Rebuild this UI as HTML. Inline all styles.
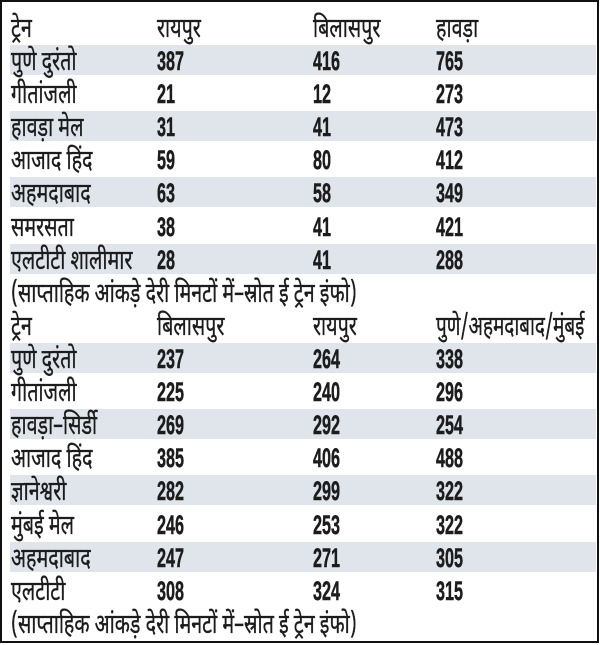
<!DOCTYPE html>
<html>
<head>
<meta charset="utf-8">
<style>
html,body{margin:0;padding:0;background:#fff;}
body{width:600px;height:644px;position:relative;overflow:hidden;}
.frame{position:absolute;left:0;top:0;width:599px;height:643px;box-sizing:border-box;border:2.5px solid #111;}
.band{position:absolute;left:10px;width:586px;height:30px;background:#dfe5eb;}
.t{position:absolute;height:30px;line-height:30px;white-space:nowrap;color:#1c1c1c;margin-top:5px;
   font-family:"Noto Sans Devanagari","Lohit Devanagari","FreeSans","Liberation Sans",sans-serif;
   font-size:27px;transform-origin:0 50%;transform:scaleX(0.73);-webkit-text-stroke:0.35px #1c1c1c;}
.n{position:absolute;height:30px;line-height:30px;white-space:nowrap;color:#1c1c1c;margin-top:1px;
   font-family:"Liberation Sans",sans-serif;font-weight:bold;font-size:27px;
   transform-origin:0 50%;transform:scaleX(0.6);-webkit-text-stroke:0.5px #1c1c1c;}
.c1{left:11px}.c2{left:157px}.c3{left:313px}.c4{left:436px}
</style>
</head>
<body>
<div class="frame"></div>

<div class="band" style="top:45px"></div>
<div class="band" style="top:111px"></div>
<div class="band" style="top:177px"></div>
<div class="band" style="top:244px"></div>
<div class="band" style="top:343px"></div>
<div class="band" style="top:409px"></div>
<div class="band" style="top:475px"></div>
<div class="band" style="top:542px"></div>

<!-- Table 1 -->
<div class="t c1" style="top:12px">ट्रेन</div>
<div class="t c2" style="top:12px">रायपुर</div>
<div class="t c3" style="top:12px">बिलासपुर</div>
<div class="t c4" style="top:12px">हावड़ा</div>

<div class="t c1" style="top:45px">पुणे दुरंतो</div>
<div class="n c2" style="top:45px">387</div>
<div class="n c3" style="top:45px">416</div>
<div class="n c4" style="top:45px">765</div>

<div class="t c1" style="top:78px">गीतांजली</div>
<div class="n c2" style="top:78px">21</div>
<div class="n c3" style="top:78px">12</div>
<div class="n c4" style="top:78px">273</div>

<div class="t c1" style="top:111px">हावड़ा मेल</div>
<div class="n c2" style="top:111px">31</div>
<div class="n c3" style="top:111px">41</div>
<div class="n c4" style="top:111px">473</div>

<div class="t c1" style="top:144px">आजाद हिंद</div>
<div class="n c2" style="top:144px">59</div>
<div class="n c3" style="top:144px">80</div>
<div class="n c4" style="top:144px">412</div>

<div class="t c1" style="top:177px">अहमदाबाद</div>
<div class="n c2" style="top:177px">63</div>
<div class="n c3" style="top:177px">58</div>
<div class="n c4" style="top:177px">349</div>

<div class="t c1" style="top:211px">समरसता</div>
<div class="n c2" style="top:211px">38</div>
<div class="n c3" style="top:211px">41</div>
<div class="n c4" style="top:211px">421</div>

<div class="t c1" style="top:244px">एलटीटी शालीमार</div>
<div class="n c2" style="top:244px">28</div>
<div class="n c3" style="top:244px">41</div>
<div class="n c4" style="top:244px">288</div>

<div class="t c1" style="top:277px">(साप्ताहिक आंकड़े देरी मिनटों में–स्रोत ई ट्रेन इंफो)</div>

<!-- Table 2 -->
<div class="t c1" style="top:310px">ट्रेन</div>
<div class="t c2" style="top:310px">बिलासपुर</div>
<div class="t c3" style="top:310px">रायपुर</div>
<div class="t c4" style="top:310px;transform:scaleX(0.70)">पुणे/अहमदाबाद/मुंबई</div>

<div class="t c1" style="top:343px">पुणे दुरंतो</div>
<div class="n c2" style="top:343px">237</div>
<div class="n c3" style="top:343px">264</div>
<div class="n c4" style="top:343px">338</div>

<div class="t c1" style="top:376px">गीतांजली</div>
<div class="n c2" style="top:376px">225</div>
<div class="n c3" style="top:376px">240</div>
<div class="n c4" style="top:376px">296</div>

<div class="t c1" style="top:409px">हावड़ा–सिर्डी</div>
<div class="n c2" style="top:409px">269</div>
<div class="n c3" style="top:409px">292</div>
<div class="n c4" style="top:409px">254</div>

<div class="t c1" style="top:442px">आजाद हिंद</div>
<div class="n c2" style="top:442px">385</div>
<div class="n c3" style="top:442px">406</div>
<div class="n c4" style="top:442px">488</div>

<div class="t c1" style="top:475px">ज्ञानेश्वरी</div>
<div class="n c2" style="top:475px">282</div>
<div class="n c3" style="top:475px">299</div>
<div class="n c4" style="top:475px">322</div>

<div class="t c1" style="top:509px">मुंबई मेल</div>
<div class="n c2" style="top:509px">246</div>
<div class="n c3" style="top:509px">253</div>
<div class="n c4" style="top:509px">322</div>

<div class="t c1" style="top:542px">अहमदाबाद</div>
<div class="n c2" style="top:542px">247</div>
<div class="n c3" style="top:542px">271</div>
<div class="n c4" style="top:542px">305</div>

<div class="t c1" style="top:575px">एलटीटी</div>
<div class="n c2" style="top:575px">308</div>
<div class="n c3" style="top:575px">324</div>
<div class="n c4" style="top:575px">315</div>

<div class="t c1" style="top:608px">(साप्ताहिक आंकड़े देरी मिनटों में–स्रोत ई ट्रेन इंफो)</div>
</body>
</html>
